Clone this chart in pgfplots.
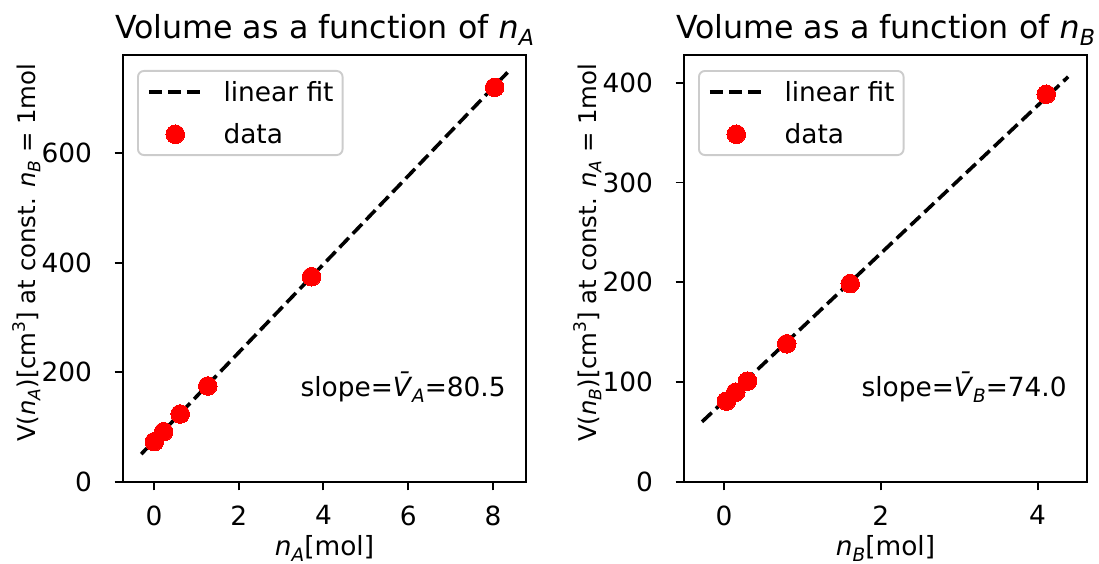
\documentclass[border=0pt]{standalone}
\usepackage{fontspec}
\setmainfont{DejaVu Sans}
\usepackage{graphicx}
\usepackage{pgfplots}
\pgfplotsset{compat=1.18}
\usepackage{pgfplotstable}

\newcommand{\sub}[1]{\raisebox{-0.22em}{\scalebox{0.7}{\textit{#1}}}}
\newcommand{\sups}[1]{\raisebox{0.42em}{\scalebox{0.7}{#1}}}
\newcommand{\fa}{\fontsize{26.4bp}{31bp}\selectfont}
\newcommand{\fc}{\fontsize{24.4bp}{29bp}\selectfont}
\newcommand{\fb}{\fontsize{31.7bp}{37bp}\selectfont}

\pgfplotstableread{
x y
0.01 73.5
0.23 91.7
0.62 124
1.27 175
3.72 374.3
8.04 719.6
}\dataA
\pgfplotstableread{
x y
-0.30 50.85
8.35 747.2
}\fitA
\pgfplotstableread{
x y
0.03 81
0.15 90
0.30 101
0.80 138.4
1.61 198.7
4.11 388.4
}\dataB
\pgfplotstableread{
x y
-0.28 60.3
4.39 405.9
}\fitB

\pgfplotsset{
 myaxis/.style={
  width=403bp, height=427bp, scale only axis,
  anchor=south west,
  axis line style={line width=1.9bp},
  every tick/.style={line width=1.9bp, black},
  major tick length=8.4bp,
  tick align=outside, xtick pos=bottom, ytick pos=left,
  ymin=0,
  /pgf/number format/assume math mode=true,
  tick label style={font=\fa},
  xticklabel style={inner sep=0pt, anchor=north, yshift=-15bp},
  yticklabel style={inner sep=0pt, anchor=east, xshift=-22.5bp},
  label style={font=\fa},
  every axis title shift=0pt,
  title style={font=\fb, at={(axis description cs:0.5,1.0375)}, anchor=base},
  xlabel style={at={(axis description cs:0.5,-0.172)}, anchor=base},
  ylabel style={font=\fc, at={(axis description cs:-0.24,0.537)}, anchor=center},
  legend style={at={(axis description cs:0,1)}, anchor=north west, xshift=14bp, yshift=-15bp,
    draw=black!20, line width=1.9bp, rounded corners=6bp, font=\fa,
    inner xsep=9bp, inner ysep=10bp, row sep=21bp,
    nodes={inner sep=0pt}},
  legend cell align=left,
 },
 fitline/.style={black, line width=3.6bp, dash pattern=on 13.3bp off 5.8bp,
   legend image code/.code={\draw[##1] (0bp,0bp) -- (53bp,0bp); \path (73bp,0bp);}},
 datapts/.style={red, only marks, mark=*, mark size=9.3bp, mark options={solid, fill=red, draw=red, line width=0pt},
   legend image code/.code={\draw[##1] plot coordinates {(26.5bp,0bp)}; \path (0bp,0bp) (73bp,0bp);}},
}

\begin{document}
\begin{tikzpicture}
\useasboundingbox (0bp,0bp) rectangle (1099bp,-564bp);
\begin{axis}[myaxis, at={(123bp,-482bp)},
  xmin=-0.73, xmax=8.78, ymax=778.5,
  xtick={0,2,4,6,8}, ytick={0,200,400,600},
  title={Volume as a function of \textit{n}\sub{A}},
  xlabel={\textit{n}\sub{A}[mol]},
  ylabel={V(\textit{n}\sub{A})[cm\sups{3}] at const. \textit{n}\sub{B} = 1mol}]
\addplot[fitline] table {\fitA};
\addlegendentry{linear fit\vphantom{p}}
\addplot[datapts] table {\dataA};
\addlegendentry{data\vphantom{lp}}
\node[anchor=base east, font=\fa, inner sep=0pt] at (axis description cs:0.95,0.2) {slope=\textit{\=V}\sub{A}=80.5};
\end{axis}
\begin{axis}[myaxis, at={(684bp,-482bp)},
  xmin=-0.51, xmax=4.63, ymax=427.7,
  xtick={0,2,4}, ytick={0,100,200,300,400},
  title={Volume as a function of \textit{n}\sub{B}},
  xlabel={\textit{n}\sub{B}[mol]},
  ylabel={V(\textit{n}\sub{B})[cm\sups{3}] at const. \textit{n}\sub{A} = 1mol}]
\addplot[fitline] table {\fitB};
\addlegendentry{linear fit\vphantom{p}}
\addplot[datapts] table {\dataB};
\addlegendentry{data\vphantom{lp}}
\node[anchor=base east, font=\fa, inner sep=0pt] at (axis description cs:0.95,0.2) {slope=\textit{\=V}\sub{B}=74.0};
\end{axis}
\end{tikzpicture}
\end{document}
